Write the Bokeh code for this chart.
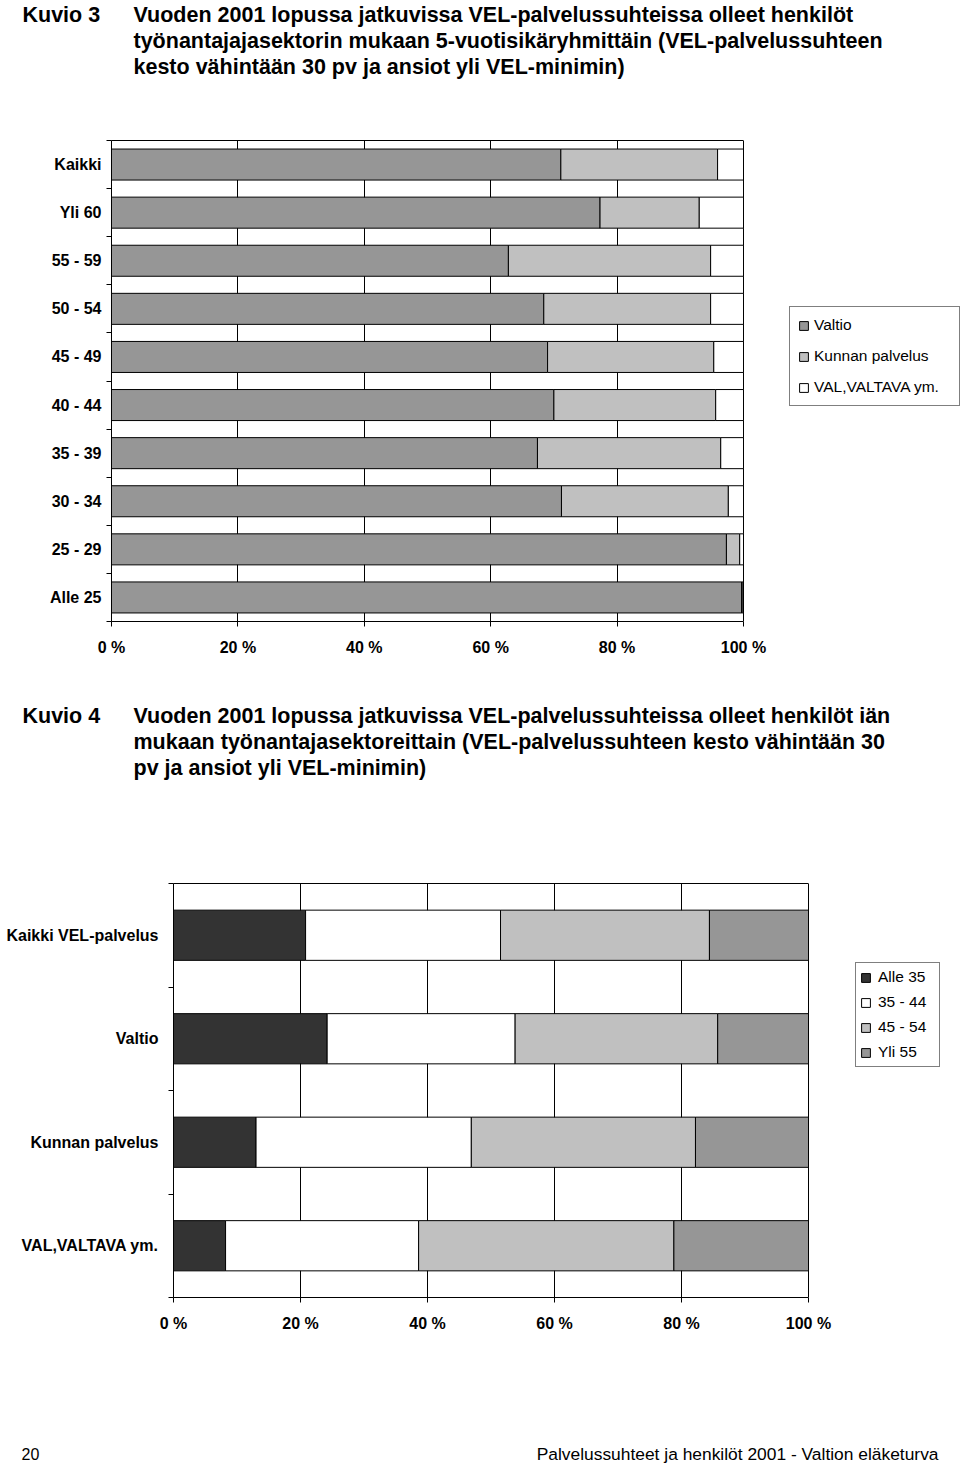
from bokeh.plotting import figure
from bokeh.models import (Range1d, FixedTicker, PrintfTickFormatter, Label,
                          ColumnDataSource, Legend, LegendItem, LinearAxis)
from bokeh.embed import file_html
from bokeh.resources import INLINE

# ---------------- data ----------------
# Kuvio 3: share of persons by employer sector, per age group (%)
age_groups = ["Kaikki", "Yli 60", "55 - 59", "50 - 54", "45 - 49",
              "40 - 44", "35 - 39", "30 - 34", "25 - 29", "Alle 25"]
valtio = [71.1, 77.3, 62.8, 68.4, 69.0, 70.0, 67.4, 71.2, 97.3, 99.7]
kunta = [24.8, 15.7, 32.0, 26.4, 26.3, 25.6, 29.0, 26.4, 2.1, 0.1]
val_valtava = [4.1, 7.0, 5.2, 5.2, 4.7, 4.4, 3.6, 2.4, 0.6, 0.2]
sector_names = ["Valtio", "Kunnan palvelus", "VAL,VALTAVA ym."]

# Kuvio 4: share of persons by age group, per employer sector (%)
sectors = ["Kaikki VEL-palvelus", "Valtio", "Kunnan palvelus", "VAL,VALTAVA ym."]
alle35 = [20.8, 24.2, 13.0, 8.2]
a35_44 = [30.7, 29.6, 33.9, 30.4]
a45_54 = [32.9, 31.9, 35.3, 40.2]
yli55 = [15.6, 14.3, 17.8, 21.2]
age_names = ["Alle 35", "35 - 44", "45 - 54", "Yli 55"]

x_ticks = [0, 20, 40, 60, 80, 100]

title3 = ["Vuoden 2001 lopussa jatkuvissa VEL-palvelussuhteissa olleet henkilöt",
          "työnantajajasektorin mukaan 5-vuotisikäryhmittäin (VEL-palvelussuhteen",
          "kesto vähintään 30 pv ja ansiot yli VEL-minimin)"]
title4 = ["Vuoden 2001 lopussa jatkuvissa VEL-palvelussuhteissa olleet henkilöt iän",
          "mukaan työnantajasektoreittain (VEL-palvelussuhteen kesto vähintään 30",
          "pv ja ansiot yli VEL-minimin)"]
footer_left = "20"
footer_right = "Palvelussuhteet ja henkilöt 2001 - Valtion eläketurva"

# ---------------- styling / layout ----------------
FONT = "Liberation Sans"
W = 960          # page width (Bokeh's page template has no body margin)


def text_fig(page_top, height, entries):
    """A figure whose frame is its whole canvas, holding free texts.
    entries: (page_x, page_center_y, text, size, bold, align)"""
    p = figure(width=W, height=height, x_range=Range1d(0, W),
               y_range=Range1d(0, height), output_backend="svg",
               toolbar_location=None, x_axis_location=None,
               y_axis_location=None, min_border=0)
    p.outline_line_color = None
    p.grid.visible = False
    bottom = page_top + height
    for px, py, text, size, bold, align in entries:
        p.add_layout(Label(x=px, y=bottom - py, x_units="screen",
                           y_units="screen", text=text, text_font=FONT,
                           text_font_size=size,
                           text_font_style="bold" if bold else "normal",
                           text_color="black", text_align=align,
                           text_baseline="middle"))
    return p


def make_chart(cats, series, names, colors, bar_h, page_top, frame_left,
               frame_top, frame_bottom, chart_right, height, label_standoff,
               legend_box, legend_padding, legend_spacing, legend_standoff,
               legend_label_width):
    n = len(cats)
    centers = [n - i - 0.5 for i in range(n)]
    bounds = [float(i) for i in range(n + 1)]
    data = {"y": centers}
    keys = []
    for k, s in enumerate(series):
        key = "s%d" % k
        data[key] = s
        keys.append(key)
    src = ColumnDataSource(data)
    # frame spans to the right page edge so that the legend is inside it;
    # the 0..100 % scale covers frame_left..chart_right
    frame_w = W - frame_left
    x_end = 100.0 * frame_w / (chart_right - frame_left)
    top_b = frame_top - page_top
    bot_b = page_top + height - frame_bottom
    p = figure(width=W, height=height, x_range=Range1d(0, x_end),
               y_range=Range1d(0, n), output_backend="svg",
               toolbar_location=None, min_border_left=frame_left,
               min_border_right=0, min_border_top=top_b,
               min_border_bottom=bot_b)
    rends = p.hbar_stack(keys, y="y", height=bar_h, source=src,
                         fill_color=colors, line_color="black", line_width=1)
    p.outline_line_color = None
    p.background_fill_color = "white"
    p.border_fill_color = "white"
    p.ygrid.visible = False
    xt = FixedTicker(ticks=x_ticks)
    p.xaxis.ticker = xt
    p.xgrid.ticker = xt
    p.xgrid.grid_line_color = "black"
    p.xgrid.grid_line_width = 1
    p.xaxis.bounds = (0, 100)
    p.xaxis.formatter = PrintfTickFormatter(format="%d %%")
    p.xaxis.major_tick_in = 0
    p.xaxis.major_tick_out = 5
    p.xaxis.major_label_standoff = 12
    p.xaxis.axis_line_color = "black"
    p.xaxis.major_tick_line_color = "black"
    p.yaxis.ticker = FixedTicker(ticks=centers, minor_ticks=bounds)
    p.yaxis.major_label_overrides = {c: name for c, name in zip(centers, cats)}
    p.yaxis.major_tick_in = 0
    p.yaxis.major_tick_out = 0
    p.yaxis.minor_tick_in = 0
    p.yaxis.minor_tick_out = 5
    p.yaxis.minor_tick_line_color = "black"
    p.yaxis.axis_line_color = "black"
    p.yaxis.major_label_standoff = label_standoff
    for ax in (p.xaxis, p.yaxis):
        ax.major_label_text_font = FONT
        ax.major_label_text_font_style = "bold"
        ax.major_label_text_color = "black"
        ax.major_label_text_font_size = "16px"
    # top border of the plot area (0..100 % only)
    top_axis = LinearAxis(ticker=FixedTicker(ticks=[]), bounds=(0, 100),
                          major_tick_in=0, major_tick_out=0,
                          minor_tick_in=0, minor_tick_out=0,
                          axis_line_color="black")
    p.add_layout(top_axis, "above")

    box_left, box_bottom = legend_box
    lg = Legend(items=[LegendItem(label=nm, renderers=[r])
                       for nm, r in zip(names, rends)],
                location=(box_left - frame_left, frame_bottom - box_bottom))
    lg.border_line_color = "black"
    lg.border_line_width = 1
    lg.background_fill_color = "white"
    lg.background_fill_alpha = 1
    lg.label_text_font = FONT
    lg.label_text_font_size = "15.5px"
    lg.label_text_color = "black"
    lg.glyph_width = 11
    lg.glyph_height = 11
    lg.label_height = 20
    lg.label_width = legend_label_width
    lg.label_standoff = legend_standoff
    lg.padding = legend_padding
    lg.spacing = legend_spacing
    lg.margin = 0
    p.add_layout(lg, "center")
    return p


# ---------------- page pieces (page coordinates) ----------------
T3_TOP, T3_H = 0, 100
t3 = text_fig(T3_TOP, T3_H,
              [(22, 14, "Kuvio 3", "21.5px", True, "left")] +
              [(133, 14 + 26 * i, line, "21.5px", True, "left")
               for i, line in enumerate(title3)])

P1_TOP, P1_H = 100, 580
p1 = make_chart(age_groups, [valtio, kunta, val_valtava], sector_names,
                ["#969696", "#C0C0C0", "#FFFFFF"], 0.645, P1_TOP,
                111, 140, 621, 743, P1_H, 5, (789, 406), 8, 11, 5, 137)

T4_TOP, T4_H = 680, 120
t4 = text_fig(T4_TOP, T4_H,
              [(22, 715, "Kuvio 4", "21.5px", True, "left")] +
              [(133, 715 + 26 * i, line, "21.5px", True, "left")
               for i, line in enumerate(title4)])

P2_TOP, P2_H = 800, 540
p2 = make_chart(sectors, [alle35, a35_44, a45_54, yli55], age_names,
                ["#333333", "#FFFFFF", "#C0C0C0", "#969696"], 0.485, P2_TOP,
                173, 883, 1297, 808, P2_H, 10, (855, 1067), 4, 5, 7, 57)

F_TOP, F_H = 1340, 124
foot = text_fig(F_TOP, F_H,
                [(21, 1453, footer_left, "16px", False, "left"),
                 (938, 1453, footer_right, "17.4px", False, "right")])

open("out.html", "w").write(file_html([t3, p1, t4, p2, foot], INLINE))
